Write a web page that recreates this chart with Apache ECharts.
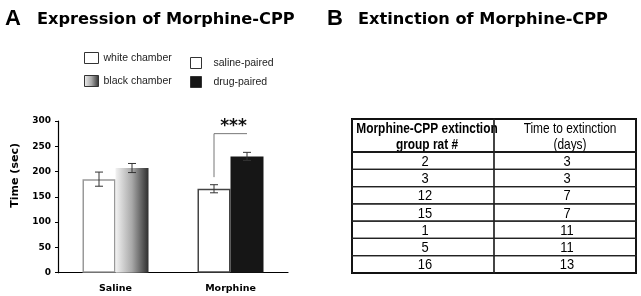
<!DOCTYPE html>
<html>
<head>
<meta charset="utf-8">
<script src="https://cdn.jsdelivr.net/npm/echarts@6/dist/echarts.min.js"></script>
<style>
  html, body { margin: 0; padding: 0; background: #fff; }
  #main { width: 641px; height: 296px; }
</style>
</head>
<body>
<div id="main"></div>
<script>
// panel A data
const groups = ['Saline', 'Morphine'];
const whiteMeans = [185, 166];
const whiteSem = [14, 8];
const darkMeans = [207, 230];
const darkSem = [9, 8];
const sigPair = [1, 189, 275]; // group, bracket foot, bracket top
const sigLabel = '***';

// panel B data
const tableHead = ['Morphine-CPP extinction\ngroup rat #', 'Time to extinction\n(days)'];
const ratIds = ['2', '3', '12', '15', '1', '5', '16'];
const daysToExt = [3, 3, 7, 7, 11, 11, 13];

const BOLD = 'DejaVu Sans';
const ARIAL = '"Liberation Sans", Arial, sans-serif';
const halfBar = 16.5;

const chart = echarts.init(document.getElementById('main'));

function errItem(params, api) {
  const side = api.value(3);
  const x = api.coord([api.value(0), api.value(1)])[0] + side * halfBar;
  const hi = api.coord([api.value(0), api.value(1) + api.value(2)])[1];
  const lo = api.coord([api.value(0), api.value(1) - api.value(2)])[1];
  const st = { stroke: '#333', lineWidth: 1 };
  return {
    type: 'group', children: [
      { type: 'line', shape: { x1: x, y1: hi, x2: x, y2: lo }, style: st },
      { type: 'line', shape: { x1: x - 4, y1: hi, x2: x + 4, y2: hi }, style: st },
      { type: 'line', shape: { x1: x - 4, y1: lo, x2: x + 4, y2: lo }, style: st }
    ]
  };
}

function sigItem(params, api) {
  const c = api.value(0);
  const cx = api.coord([c, api.value(1)])[0];
  const foot = api.coord([c, api.value(1)])[1];
  const top = api.coord([c, api.value(2)])[1];
  return {
    type: 'group', children: [
      { type: 'polyline', shape: { points: [[cx - halfBar, foot], [cx - halfBar, top], [cx + halfBar, top]] },
        style: { stroke: '#777', lineWidth: 1, fill: null } },
      { type: 'text', style: { text: sigLabel, x: cx + 3, y: top - 7, align: 'center', verticalAlign: 'middle',
        fontFamily: BOLD, fontWeight: 'bold', fontSize: 17, fill: '#111' } }
    ]
  };
}

// narrow look: Arial-metric face squeezed horizontally
function cellItem(texts, head) {
  return function (params, api) {
    const p = api.coord([api.value(0), api.value(1)]);
    const s = api.size([1, 1]);
    const col = api.value(0);
    return {
      type: 'group', children: [
        { type: 'rect', shape: { x: p[0] - s[0] / 2, y: p[1] - s[1] / 2, width: s[0], height: s[1] },
          style: { fill: null, stroke: '#222', lineWidth: 1.2 } },
        { type: 'text', x: p[0] + (head ? (col === 1 ? 5 : 4) : 2), y: p[1] + 1, scaleX: head ? 0.82 : 0.86,
          style: { text: texts[params.dataIndex], x: 0, y: 0,
            align: 'center', verticalAlign: 'middle', fontFamily: ARIAL, lineHeight: 16,
            fontWeight: head && col === 0 ? 'bold' : 'normal', fontSize: head ? 14.5 : 15, fill: '#000' } }
      ]
    };
  };
}

const errData = groups.map((g, i) => [i, whiteMeans[i], whiteSem[i], -1])
  .concat(groups.map((g, i) => [i, darkMeans[i], darkSem[i], 1]));
const headCells = tableHead.map((t, i) => [i, 0]);
const bodyCells = [];
const bodyTexts = [];
ratIds.forEach((r, i) => {
  bodyCells.push([0, i]); bodyTexts.push(r);
  bodyCells.push([1, i]); bodyTexts.push(String(daysToExt[i]));
});

const gradient = new echarts.graphic.LinearGradient(0, 0, 1, 0, [
  { offset: 0, color: '#f2f2f2' },
  { offset: 0.5, color: '#a8a8a8' },
  { offset: 1, color: '#2e2e2e' }
]);

const legendText = { fontFamily: ARIAL, fontSize: 10.5, color: '#222' };

chart.setOption({
  animation: false,
  backgroundColor: '#fff',
  graphic: [
    { type: 'text', left: 5, top: 8, style: { text: 'A', fontFamily: ARIAL, fontWeight: 'bold', fontSize: 22, fill: '#000' } },
    { type: 'text', left: 37, top: 11.5, style: { text: 'Expression of Morphine-CPP', fontFamily: BOLD, fontWeight: 'bold', fontSize: 16.2, fill: '#000' } },
    { type: 'text', left: 327, top: 8, style: { text: 'B', fontFamily: ARIAL, fontWeight: 'bold', fontSize: 22, fill: '#000' } },
    { type: 'text', left: 358, top: 11.5, style: { text: 'Extinction of Morphine-CPP', fontFamily: BOLD, fontWeight: 'bold', fontSize: 16.2, fill: '#000' } }
  ],
  legend: [
    {
      data: ['white chamber', 'black chamber'], orient: 'vertical', left: 84, top: 52, padding: 0,
      icon: 'rect', itemWidth: 14, itemHeight: 11, itemGap: 11, textStyle: legendText,
      itemStyle: { borderColor: '#333', borderWidth: 1 }, selectedMode: false
    },
    {
      data: ['saline-paired', 'drug-paired'], orient: 'vertical', left: 190, top: 57, padding: 0,
      icon: 'rect', itemWidth: 11, itemHeight: 11, itemGap: 7,
      textStyle: Object.assign({ padding: [0, 0, 0, 7] }, legendText),
      itemStyle: { borderColor: '#333', borderWidth: 1 }, selectedMode: false
    }
  ],
  grid: [
    { left: 58, top: 121, width: 230, height: 151.7 },
    { left: 352, top: 119, width: 284, height: 33, show: true, borderColor: '#000', borderWidth: 2 },
    { left: 352, top: 152, width: 284, height: 121, show: true, borderColor: '#000', borderWidth: 2 }
  ],
  xAxis: [
    {
      type: 'category', gridIndex: 0, data: groups,
      axisLine: { lineStyle: { color: '#000', width: 1.2 } },
      axisTick: { length: 4, lineStyle: { color: '#000' } },
      axisLabel: { color: '#000', fontFamily: BOLD, fontWeight: 'bold', fontSize: 9.5, margin: 11 }
    },
    { type: 'category', gridIndex: 1, data: tableHead, show: false },
    { type: 'category', gridIndex: 2, data: tableHead, show: false }
  ],
  yAxis: [
    {
      type: 'value', gridIndex: 0, min: 0, max: 300, interval: 50,
      name: 'Time (sec)', nameLocation: 'middle', nameGap: 37,
      nameTextStyle: { color: '#000', fontFamily: BOLD, fontWeight: 'bold', fontSize: 11, padding: [0, 0, 0, 43] },
      axisLine: { show: true, lineStyle: { color: '#000', width: 1.2 } },
      axisTick: { show: true, length: 3, lineStyle: { color: '#000' } },
      axisLabel: { color: '#000', fontFamily: BOLD, fontWeight: 'bold', fontSize: 9, margin: 7 },
      splitLine: { show: false }
    },
    { type: 'category', gridIndex: 1, data: ['head'], show: false },
    { type: 'category', gridIndex: 2, data: ratIds, inverse: true, show: false }
  ],
  series: [
    { name: 'white chamber', type: 'bar', stack: 'w', barWidth: 33, barGap: '0%',
      data: [whiteMeans[0], null], itemStyle: { color: '#fff', borderColor: '#999', borderWidth: 1.5 } },
    { name: 'black chamber', type: 'bar', stack: 'd', barWidth: 33, barGap: '0%',
      data: [darkMeans[0], null], itemStyle: { color: gradient } },
    { name: 'saline-paired', type: 'bar', stack: 'w', barWidth: 33, barGap: '0%',
      data: [null, whiteMeans[1]], itemStyle: { color: '#fff', borderColor: '#444', borderWidth: 1.5 } },
    { name: 'drug-paired', type: 'bar', stack: 'd', barWidth: 33, barGap: '0%',
      data: [null, darkMeans[1]], itemStyle: { color: '#161616' } },
    { type: 'custom', xAxisIndex: 0, yAxisIndex: 0, renderItem: errItem, data: errData, z: 5 },
    { type: 'custom', xAxisIndex: 0, yAxisIndex: 0, renderItem: sigItem, data: [sigPair], z: 5 },
    { type: 'custom', xAxisIndex: 1, yAxisIndex: 1, renderItem: cellItem(tableHead, true), data: headCells, z: 5 },
    { type: 'custom', xAxisIndex: 2, yAxisIndex: 2, renderItem: cellItem(bodyTexts, false), data: bodyCells, z: 5 }
  ]
});
</script>
</body>
</html>
